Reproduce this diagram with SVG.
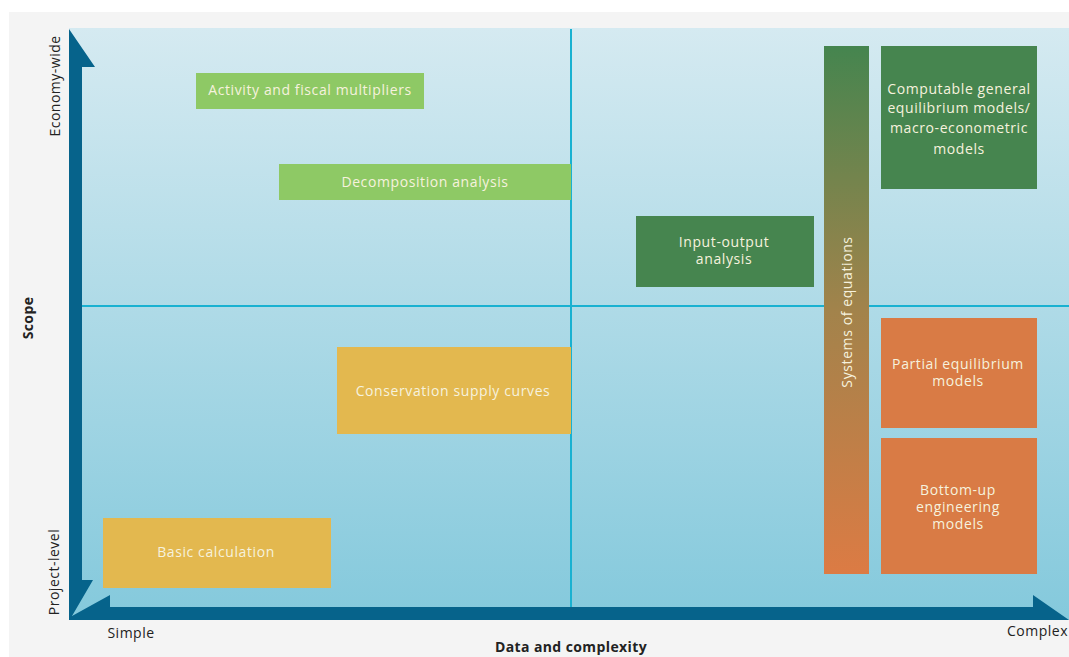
<svg xmlns="http://www.w3.org/2000/svg" width="1069" height="657" viewBox="0 0 1069 657">
<defs>
<linearGradient id="bg" x1="0" y1="0" x2="0" y2="1">
<stop offset="0" stop-color="#d5eaf1"/>
<stop offset="1" stop-color="#84c9dc"/>
</linearGradient>
<linearGradient id="soe" x1="0" y1="0" x2="0" y2="1">
<stop offset="0" stop-color="#45854f"/>
<stop offset="0.5" stop-color="#a2834b"/>
<stop offset="1" stop-color="#dc7b44"/>
</linearGradient>
<style>
.t{font-family:"Open Sans","Liberation Sans",sans-serif;font-size:14px;letter-spacing:0.6px;fill:#f6f2de;text-anchor:middle}
.ax{font-family:"Open Sans","Liberation Sans",sans-serif;font-size:14px;letter-spacing:0.5px;fill:#222;text-anchor:middle}
.axb{font-family:"Open Sans","Liberation Sans",sans-serif;font-size:14px;letter-spacing:0.4px;font-weight:bold;fill:#222;text-anchor:middle}
.lg{fill:#8ec965}
.dg{fill:#46854f}
.or{fill:#d97b45}
.ye{fill:#e3b84f}
.div{stroke:#19b1d1;stroke-width:2;fill:none}
</style>
</defs>
<rect x="0" y="0" width="1069" height="657" fill="#ffffff"/>
<rect x="9" y="12" width="1060" height="645" fill="#f4f4f4"/>
<rect x="69" y="28" width="1000" height="592" fill="url(#bg)"/>
<g id="connectors">
<line class="div" x1="571" y1="29" x2="571" y2="607"/>
<line class="div" x1="82" y1="306" x2="1069" y2="306"/>
</g>
<g id="axes">
<polygon fill="#06638b" points="69,29 95,67 82,67 82,580 93,580 72,616 110,595 110,607 1033,607 1033,595 1069,620 69,620"/>
<text class="ax" transform="translate(60,86) rotate(-90)">Economy-wide</text>
<text class="ax" transform="translate(59,572) rotate(-90)">Project-level</text>
<text class="axb" transform="translate(33,318) rotate(-90)">Scope</text>
<text class="ax" x="131" y="638">Simple</text>
<text class="ax" x="1007" y="636" style="text-anchor:start">Complex</text>
<text class="axb" x="571" y="652">Data and complexity</text>
</g>
<g id="activity">
<rect class="lg" x="196" y="73" width="228" height="36"/>
<text class="t" x="310" y="95">Activity and fiscal multipliers</text>
</g>
<g id="decomposition">
<rect class="lg" x="279" y="164" width="292" height="36"/>
<text class="t" x="425" y="187">Decomposition analysis</text>
</g>
<g id="input-output">
<rect class="dg" x="636" y="216" width="178" height="71"/>
<text class="t" x="724" y="247">Input-output</text>
<text class="t" x="724" y="264">analysis</text>
</g>
<g id="systems">
<rect fill="url(#soe)" x="824" y="46" width="45" height="528"/>
<text class="t" transform="translate(852,312) rotate(-90)">Systems of equations</text>
</g>
<g id="cge">
<rect class="dg" x="881" y="46" width="156" height="143"/>
<text class="t" x="959" y="94">Computable general</text>
<text class="t" x="959" y="113">equilibrium models/</text>
<text class="t" x="959" y="133">macro-econometric</text>
<text class="t" x="959" y="154">models</text>
</g>
<g id="partial">
<rect class="or" x="881" y="318" width="156" height="110"/>
<text class="t" x="958" y="369">Partial equilibrium</text>
<text class="t" x="958" y="386">models</text>
</g>
<g id="bottomup">
<rect class="or" x="881" y="438" width="156" height="136"/>
<text class="t" x="958" y="495">Bottom-up</text>
<text class="t" x="958" y="512">engineering</text>
<text class="t" x="958" y="529">models</text>
</g>
<g id="conservation">
<rect class="ye" x="337" y="347" width="234" height="87"/>
<text class="t" x="453" y="396">Conservation supply curves</text>
</g>
<g id="basic">
<rect class="ye" x="103" y="518" width="228" height="70"/>
<text class="t" x="216" y="557">Basic calculation</text>
</g>
</svg>
